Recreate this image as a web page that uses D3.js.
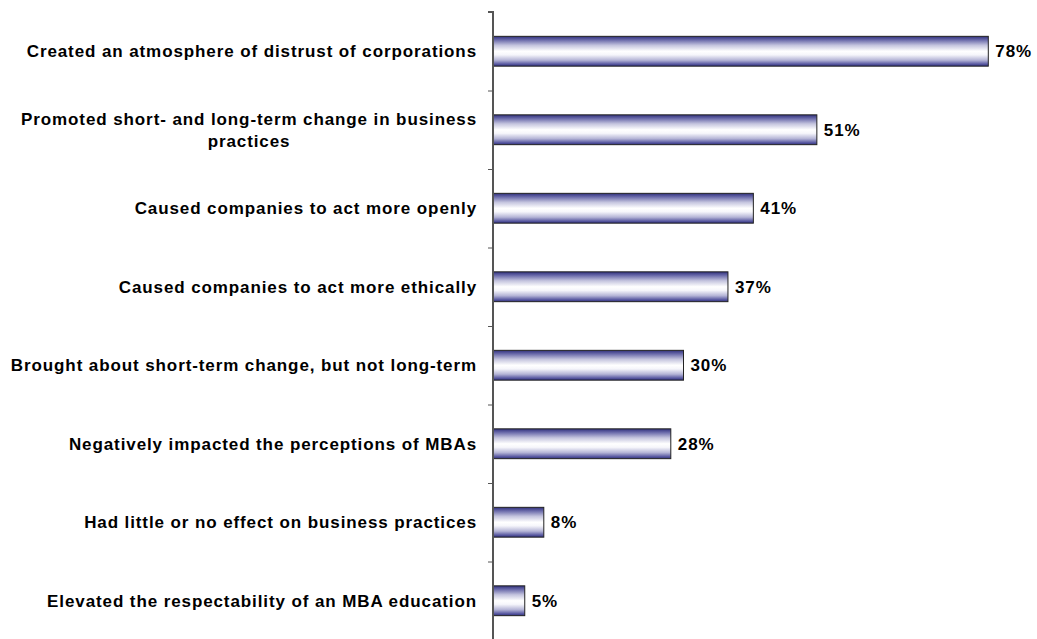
<!DOCTYPE html>
<html><head><meta charset="utf-8">
<script src="https://cdn.jsdelivr.net/npm/d3@7"></script>
<style>body{margin:0;background:#fff}svg{display:block}text{font-family:"Liberation Sans",Arial,sans-serif;font-weight:bold;fill:#000;letter-spacing:0.9px}</style>
</head><body><svg id="c" width="1037" height="639"></svg>
<script>
const categories = [
  ["Created an atmosphere of distrust of corporations"],
  ["Promoted short- and long-term change in business", "practices"],
  ["Caused companies to act more openly"],
  ["Caused companies to act more ethically"],
  ["Brought about short-term change, but not long-term"],
  ["Negatively impacted the perceptions of MBAs"],
  ["Had little or no effect on business practices"],
  ["Elevated the respectability of an MBA education"]
];
const values = [78, 51, 41, 37, 30, 28, 8, 5];
const valueLabels = ["78%", "51%", "41%", "37%", "30%", "28%", "8%", "5%"];

(function () {
const svg = d3.select("#c");
const x0 = 493, yTop = 12, yBot = 640;
const keys = categories.map((c, i) => i);
const x = d3.scaleLinear().domain([0, 100]).range([x0, x0 + 635]);
const y = d3.scaleBand().domain(keys).range([yTop, yBot]).paddingInner(0.62).paddingOuter(0.31);

const defs = svg.append("defs");
const g = defs.append("linearGradient").attr("id", "bg").attr("x1", 0).attr("y1", 0).attr("x2", 0).attr("y2", 1);
[[0, "#30307c"], [0.12, "#6a6aaa"], [0.3, "#c4c4de"], [0.5, "#ffffff"], [0.62, "#f6f6fb"], [0.8, "#b4b4d6"], [0.93, "#5a5aa2"], [1, "#30307c"]]
  .forEach(([o, c]) => g.append("stop").attr("offset", o).attr("stop-color", c));

svg.selectAll("rect.bar").data(values).enter().append("rect")
  .attr("class", "bar")
  .attr("x", x(0))
  .attr("y", (d, i) => y(i))
  .attr("width", d => x(d) - x(0))
  .attr("height", y.bandwidth())
  .attr("fill", "url(#bg)")
  .attr("stroke", "#222")
  .attr("stroke-width", 1);

const yb = d3.scaleLinear().domain([0, categories.length]).range([yTop, yBot]);
const axis = d3.axisLeft(yb).tickValues(d3.range(0, categories.length)).tickSize(5).tickFormat("");
const ax = svg.append("g").attr("transform", `translate(${x0},0)`).call(axis);
ax.select(".domain").attr("stroke", "#555").attr("stroke-width", 2).attr("d", `M-5,${yTop}H0V${yBot}`);
ax.selectAll(".tick line").attr("stroke", "#555").attr("stroke-width", 1);

const fs = 17;
const lab = svg.selectAll("g.lab").data(categories).enter().append("g").attr("class", "lab");
lab.each(function (lines, i) {
  const gg = d3.select(this);
  const cy = y(i) + y.bandwidth() / 2;
  const t = gg.append("text").attr("font-size", fs);
  const n = lines.length;
  lines.forEach((ln, j) => {
    t.append("tspan").attr("y", cy + (j - (n - 1) / 2) * 22 + 6).text(ln);
  });
  const tsp = t.selectAll("tspan").nodes();
  const widths = tsp.map(s => s.getComputedTextLength());
  const wmax = d3.max(widths);
  const right = 477;
  const center = right - wmax / 2;
  tsp.forEach(s => d3.select(s).attr("x", center).attr("text-anchor", "middle"));
});

svg.selectAll("text.val").data(values).enter().append("text")
  .attr("class", "val")
  .attr("x", d => x(d) + 7)
  .attr("y", (d, i) => y(i) + y.bandwidth() / 2 + 6)
  .attr("font-size", fs)
  .text((d, i) => valueLabels[i]);
})();
</script></body></html>
